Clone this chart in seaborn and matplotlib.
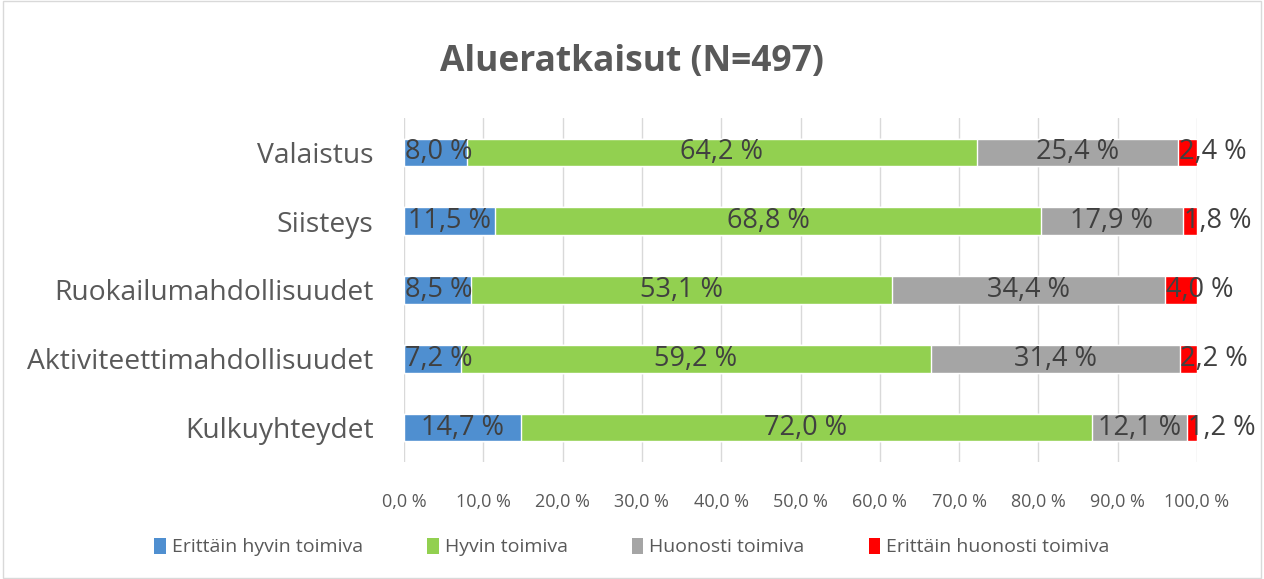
import matplotlib
matplotlib.use("Agg")
import matplotlib.pyplot as plt
import seaborn as sns
import numpy as np
import pandas as pd
from matplotlib.patches import Rectangle, Patch

categories = ["Valaistus", "Siisteys", "Ruokailumahdollisuudet",
              "Aktiviteettimahdollisuudet", "Kulkuyhteydet"]
series_names = ["Erittäin hyvin toimiva", "Hyvin toimiva",
                "Huonosti toimiva", "Erittäin huonosti toimiva"]
erittain_hyvin = [8.0, 11.5, 8.5, 7.2, 14.7]
hyvin = [64.2, 68.8, 53.1, 59.2, 72.0]
huonosti = [25.4, 17.9, 34.4, 31.4, 12.1]
erittain_huonosti = [2.4, 1.8, 4.0, 2.2, 1.2]
title = "Alueratkaisut (N=497)"
xticks = [0, 10, 20, 30, 40, 50, 60, 70, 80, 90, 100]

colors = ["#4F8FD0", "#92D050", "#A5A5A5", "#FF0000"]

sns.set_theme(style="white")
plt.rcParams["font.family"] = ["Open Sans", "DejaVu Sans"]

fig = plt.figure(figsize=(12.64, 5.79), dpi=100)
ax = fig.add_axes([404/1264, 1-462/579, (1197-404)/1264, (462-118)/579])

series = [erittain_hyvin, hyvin, huonosti, erittain_huonosti]
cum = np.cumsum(np.array(series), axis=0)
# draw from largest cumulative to smallest so stacks appear
for i in range(3, -1, -1):
    df = pd.DataFrame({"cat": categories, "val": cum[i]})
    sns.barplot(data=df, x="val", y="cat", orient="h", color=colors[i],
                saturation=1, width=0.4, ax=ax, zorder=3)

ax.set_xlim(0, 100)
ax.set_ylim(4.5, -0.5)
ax.set_xticks(xticks)
ax.set_xticklabels([f"{t:.1f} %".replace(".", ",") for t in xticks],
                   fontsize=13, color="#595959")
ax.tick_params(axis="x", length=0, pad=22)
ax.tick_params(axis="y", length=0, pad=22)
ax.set_yticks(range(len(categories)))
ax.set_yticklabels(categories, fontsize=20.3, color="#595959")
ax.set_xlabel("")
ax.set_ylabel("")
for s in ax.spines.values():
    s.set_visible(False)
ax.grid(axis="x", color="#D9D9D9", linewidth=1, zorder=0)
ax.set_axisbelow(True)

# data labels
for j in range(len(categories)):
    start = 0.0
    for i in range(4):
        v = series[i][j]
        lab = f"{v:.1f} %".replace(".", ",")
        if v < 10:
            ax.text(start + 0.1, j, lab, ha="left", va="center", fontsize=19.5,
                    color="#404040", zorder=5)
        else:
            ax.text(start + v / 2, j, lab, ha="center", va="center", fontsize=19.5,
                    color="#404040", zorder=5)
        start += v

fig.text(0.5, 1 - 62/579, title, ha="center", va="center", fontsize=25.5,
         fontweight="bold", color="#595959")

handles = [Patch(facecolor=c, edgecolor="none") for c in colors]
fig.legend(handles, series_names, loc="center", bbox_to_anchor=(0.5, 1 - 547/579),
           ncol=4, frameon=False, fontsize=14, labelcolor="#595959",
           handlelength=0.6, handleheight=0.9, handletextpad=0.3, columnspacing=3.3)

fig.add_artist(Rectangle((0.002, 0.002), 0.996, 0.996, transform=fig.transFigure,
                         fill=False, edgecolor="#D9D9D9", linewidth=1))

fig.savefig("out.png", dpi=100)
